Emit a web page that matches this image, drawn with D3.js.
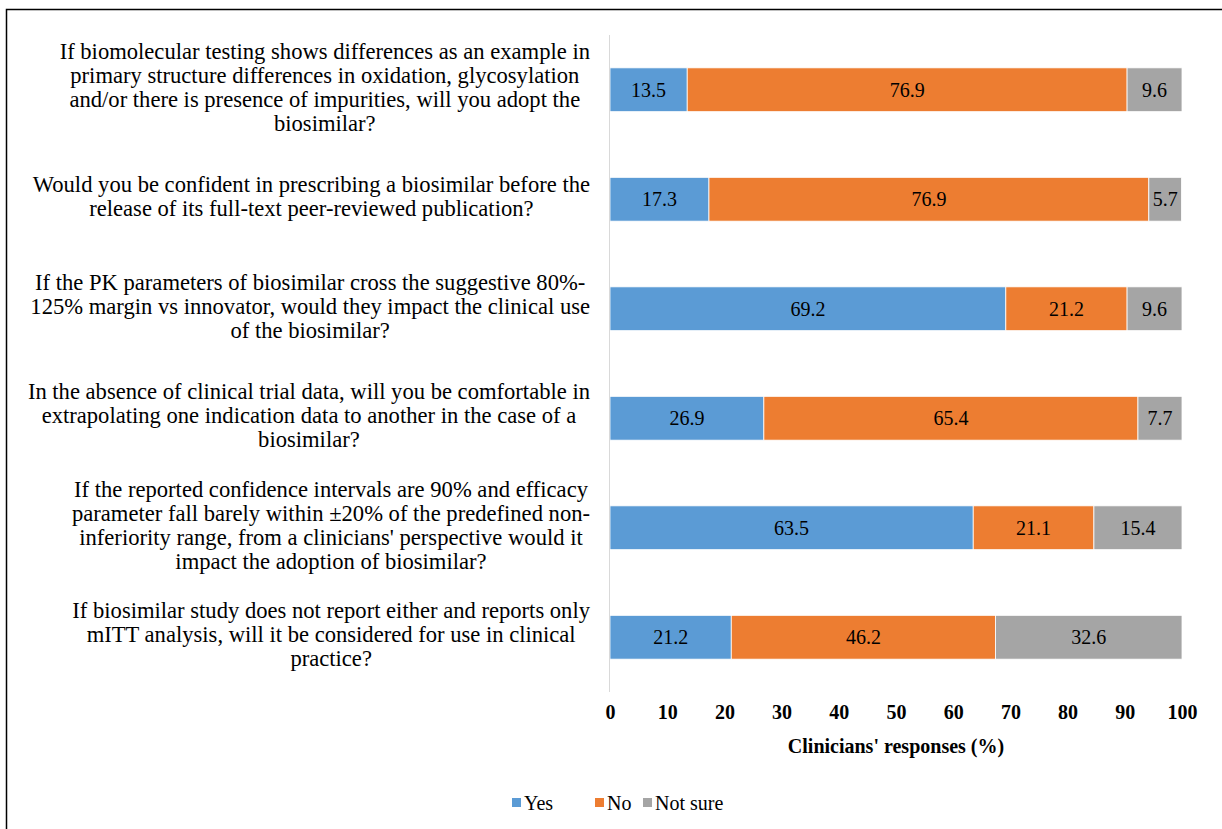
<!DOCTYPE html>
<html>
<head>
<meta charset="utf-8">
<script src="https://cdn.jsdelivr.net/npm/d3@7"></script>
<style>
  body { margin: 0; background: #fff; }
  svg { display: block; }
</style>
</head>
<body>
<svg id="chart" width="1222" height="829"></svg>
<script>
// questions, each split into the lines shown in the picture
const questions = [
  ["If biomolecular testing shows differences as an example in",
   "primary structure differences in oxidation, glycosylation",
   "and/or there is presence of impurities, will you adopt the",
   "biosimilar?"],
  ["Would you be confident in prescribing a biosimilar before the",
   "release of its full-text peer-reviewed publication?"],
  ["If the PK parameters of biosimilar cross the suggestive 80%-",
   "125% margin vs innovator, would they impact the clinical use",
   "of the biosimilar?"],
  ["In the absence of clinical trial data, will you be comfortable in",
   "extrapolating one indication data to another in the case of a",
   "biosimilar?"],
  ["If the reported confidence intervals are 90% and efficacy",
   "parameter fall barely within \u00b120% of the predefined non-",
   "inferiority range, from a clinicians' perspective would it",
   "impact the adoption of biosimilar?"],
  ["If biosimilar study does not report either and reports only",
   "mITT analysis, will it be considered for use in clinical",
   "practice?"]
];
const yes     = [13.5, 17.3, 69.2, 26.9, 63.5, 21.2];
const no      = [76.9, 76.9, 21.2, 65.4, 21.1, 46.2];
const notSure = [9.6, 5.7, 9.6, 7.7, 15.4, 32.6];
const seriesNames = ["Yes", "No", "Not sure"];
const colors = ["#5B9BD5", "#ED7D31", "#A5A5A5"];
const ticks = [0, 10, 20, 30, 40, 50, 60, 70, 80, 90, 100];

const FONT = "Liberation Serif";

const svg = d3.select("#chart").attr("font-family", FONT);

// frame
svg.append("path")
  .attr("d", "M6.5,829 V9.5 H1222")
  .attr("fill", "none").attr("stroke", "#000").attr("stroke-width", 1.5);

const x = d3.scaleLinear().domain([0, 100]).range([610, 1182]);
const y = d3.scaleBand().domain(d3.range(questions.length)).range([35, 692]).paddingInner(0.6).paddingOuter(0.3);

// build stacked rows
const rows = questions.map((q, i) => ({ i, Yes: yes[i], No: no[i], "Not sure": notSure[i] }));
const stack = d3.stack().keys(seriesNames)(rows);

const layers = svg.selectAll(".layer").data(stack).enter().append("g")
  .attr("class", "layer").attr("fill", (d, k) => colors[k]);

layers.selectAll("rect").data(d => d).enter().append("rect")
  .attr("x", d => x(d[0]))
  .attr("y", d => y(d.data.i))
  .attr("width", d => x(d[1]) - x(d[0]))
  .attr("height", y.bandwidth())
  .attr("stroke", "#fff").attr("stroke-width", 0.8);

layers.selectAll("text").data(d => d.map(v => ({ v, key: d.key }))).enter().append("text")
  .attr("x", d => x((d.v[0] + d.v[1]) / 2))
  .attr("y", d => y(d.v.data.i) + y.bandwidth() / 2)
  .attr("dy", "0.35em")
  .attr("text-anchor", "middle")
  .attr("font-family", FONT)
  .attr("font-size", 20)
  .attr("fill", "#000")
  .text(d => d.v.data[d.key].toFixed(1));

// vertical axis line
svg.append("line")
  .attr("x1", 609.5).attr("x2", 609.5).attr("y1", 35).attr("y2", 692)
  .attr("stroke", "#d9d9d9").attr("stroke-width", 1);

// x axis tick labels
const xAxis = d3.axisBottom(x).tickValues(ticks).tickSize(0).tickPadding(0);
const gx = svg.append("g").attr("transform", "translate(0,705)").call(xAxis);
gx.select(".domain").remove();
gx.attr("font-family", FONT);
gx.selectAll("text")
  .attr("font-family", FONT)
  .attr("font-size", 20).attr("font-weight", "bold").attr("fill", "#000");

svg.append("text")
  .attr("x", x(50)).attr("y", 753)
  .attr("text-anchor", "middle")
  .attr("font-family", FONT)
  .attr("font-size", 20).attr("font-weight", "bold")
  .text("Clinicians' responses (%)");

// question labels: block right-aligned, lines centered within block
const lineH = 24;
questions.forEach((lines, i) => {
  const g = svg.append("g");
  const texts = lines.map(l => g.append("text")
    .attr("font-family", FONT).attr("font-size", 22.6).attr("fill", "#000").text(l));
  const maxW = d3.max(texts, t => t.node().getComputedTextLength());
  const cx = 590 - maxW / 2;
  const cy = y(i) + y.bandwidth() / 2 - 3;
  texts.forEach((t, j) => {
    t.attr("x", cx).attr("text-anchor", "middle")
     .attr("y", cy + (j - (lines.length - 1) / 2) * lineH)
     .attr("dy", "0.35em");
  });
});

// legend
const legendX = [512, 595, 643];
const legend = svg.selectAll(".legend").data(seriesNames).enter().append("g")
  .attr("class", "legend")
  .attr("transform", (d, k) => `translate(${legendX[k]},803)`);
legend.append("rect").attr("x", 0).attr("y", -5).attr("width", 9).attr("height", 9)
  .attr("fill", (d, k) => colors[k]);
legend.append("text").attr("x", 12).attr("dy", "0.35em")
  .attr("font-family", FONT).attr("font-size", 20).attr("fill", "#000").text(d => d);
</script>
</body>
</html>
